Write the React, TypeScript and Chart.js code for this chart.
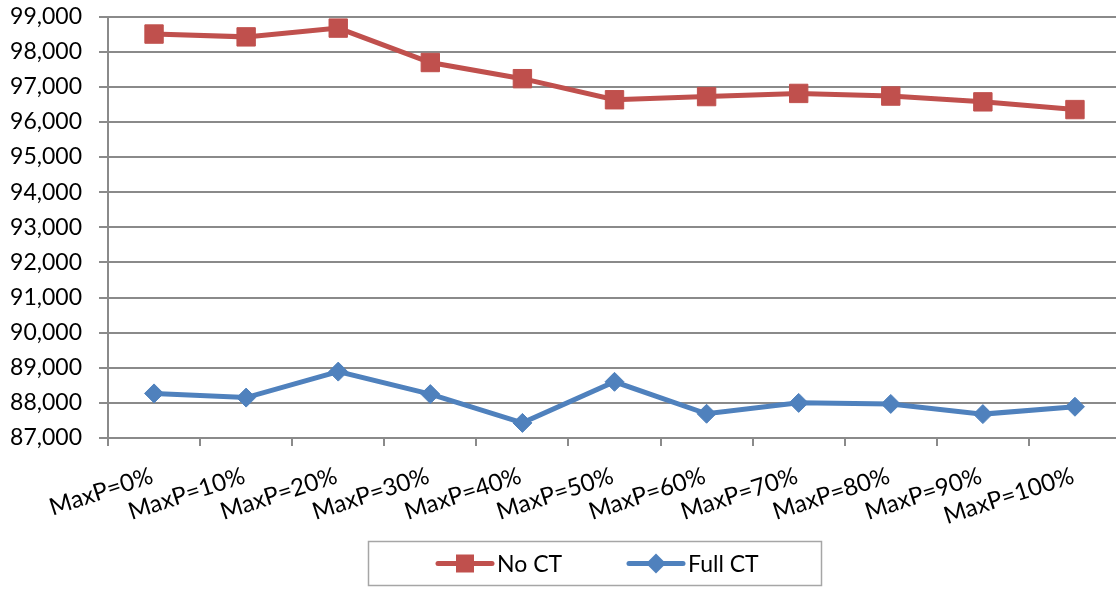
import React, { useEffect, useRef } from 'react';
import { Chart, registerables } from 'chart.js';

Chart.register(...registerables);

// Categories along the x axis
const categories = [
  'MaxP=0%', 'MaxP=10%', 'MaxP=20%', 'MaxP=30%', 'MaxP=40%', 'MaxP=50%',
  'MaxP=60%', 'MaxP=70%', 'MaxP=80%', 'MaxP=90%', 'MaxP=100%',
];

// Series values
const noCtValues = [98500, 98420, 98670, 97690, 97230, 96630, 96720, 96810, 96735, 96570, 96350];
const fullCtValues = [88270, 88150, 88890, 88250, 87430, 88600, 87690, 88000, 87970, 87680, 87890];

const seriesNames = ['No CT', 'Full CT'];
const seriesColors = ['#C0504D', '#4F81BD'];

// Value axis range
const yMin = 87000;
const yMax = 99000;
const yStep = 1000;

const FONT_FAMILY = 'Lato, "Open Sans", sans-serif';
const FONT_SIZE = 23;
const X_LABEL_SIZE = 24;
const X_LABEL_ANGLE = 18;
const GRID_COLOR = '#8a8a8a';
const CANVAS_W = 1121;
const CANVAS_H = 590;

// Slanted category labels, anchored at the end of each label under its category
const slantedLabels = {
  id: 'slantedLabels',
  afterDraw(chart: any) {
    const ctx: CanvasRenderingContext2D = chart.ctx;
    const xScale = chart.scales.x;
    const baseY = chart.chartArea.bottom + 44.5;
    ctx.save();
    ctx.font = `${X_LABEL_SIZE}px ${FONT_FAMILY}`;
    ctx.fillStyle = '#000';
    ctx.textAlign = 'right';
    ctx.textBaseline = 'alphabetic';
    chart.data.labels.forEach((label: string, i: number) => {
      const px = xScale.getPixelForValue(i) + 0.5;
      ctx.save();
      ctx.translate(px, baseY);
      ctx.rotate((-X_LABEL_ANGLE * Math.PI) / 180);
      ctx.fillText(label, 0, 0);
      ctx.restore();
    });
    ctx.restore();
  },
};

// Legend drawn inside a bordered box beneath the axis labels
const boxedLegend = {
  id: 'boxedLegend',
  afterDraw(chart: any) {
    const ctx: CanvasRenderingContext2D = chart.ctx;
    const boxLeft = 368.5;
    const boxTop = 541.5;
    const boxWidth = 453;
    const boxHeight = 44;
    const midY = boxTop + boxHeight / 2;
    const lineLen = 54;
    const textGap = 5;
    const itemStarts = [438, 629];

    ctx.save();
    ctx.strokeStyle = '#a6a6a6';
    ctx.lineWidth = 1.5;
    ctx.strokeRect(boxLeft, boxTop, boxWidth, boxHeight);

    ctx.font = `${FONT_SIZE}px ${FONT_FAMILY}`;
    ctx.textBaseline = 'middle';
    ctx.textAlign = 'left';

    chart.data.datasets.forEach((d: any, i: number) => {
      const x = itemStarts[i];
      const color = d.borderColor;
      ctx.strokeStyle = color;
      ctx.lineWidth = 5;
      ctx.lineCap = 'round';
      ctx.beginPath();
      ctx.moveTo(x, midY);
      ctx.lineTo(x + lineLen, midY);
      ctx.stroke();

      const cx = x + lineLen / 2;
      ctx.fillStyle = color;
      ctx.beginPath();
      if (d.pointStyle === 'rect') {
        const half = 9;
        ctx.rect(cx - half, midY - half, half * 2, half * 2);
      } else {
        const r = 10;
        ctx.moveTo(cx - r, midY);
        ctx.lineTo(cx, midY - r);
        ctx.lineTo(cx + r, midY);
        ctx.lineTo(cx, midY + r);
        ctx.closePath();
      }
      ctx.fill();

      ctx.fillStyle = '#000';
      ctx.fillText(d.label, x + lineLen + textGap, midY + 1);
    });
    ctx.restore();
  },
};

export default function App() {
  const canvasRef = useRef<HTMLCanvasElement | null>(null);

  useEffect(() => {
    const canvas = canvasRef.current;
    if (!canvas) return;

    const chart = new Chart(canvas, {
      type: 'line',
      data: {
        labels: categories,
        datasets: [
          {
            label: seriesNames[0],
            data: noCtValues,
            borderColor: seriesColors[0],
            backgroundColor: seriesColors[0],
            borderWidth: 5,
            pointStyle: 'rect',
            pointRadius: 13,
            pointBorderWidth: 1,
            tension: 0,
          },
          {
            label: seriesNames[1],
            data: fullCtValues,
            borderColor: seriesColors[1],
            backgroundColor: seriesColors[1],
            borderWidth: 5,
            pointStyle: 'rectRot',
            pointRadius: 9.5,
            pointBorderWidth: 1,
            tension: 0,
          },
        ],
      },
      options: {
        responsive: false,
        animation: false,
        layout: { autoPadding: false, padding: { top: 16.5, left: 0, right: 0, bottom: 52 } },
        plugins: {
          legend: { display: false },
          tooltip: { enabled: false },
        },
        scales: {
          x: {
            type: 'category',
            offset: true,
            grid: {
              offset: true,
              drawOnChartArea: false,
              drawTicks: true,
              tickLength: 8,
              color: GRID_COLOR,
              lineWidth: 2,
            },
            border: { display: true, color: GRID_COLOR, width: 2 },
            ticks: { display: false, autoSkip: false },
            afterFit(scale: any) {
              scale.height = 100;
            },
          },
          y: {
            min: yMin,
            max: yMax,
            ticks: {
              stepSize: yStep,
              padding: 17,
              color: '#000',
              font: { family: FONT_FAMILY, size: FONT_SIZE },
              callback: (v: any) => Number(v).toLocaleString('en-US'),
            },
            grid: {
              color: GRID_COLOR,
              lineWidth: 2,
              tickLength: 9,
              drawTicks: true,
            },
            border: { display: true, color: GRID_COLOR, width: 2 },
            afterFit(scale: any) {
              scale.width = 108;
              scale.paddingTop = 0;
              scale.paddingBottom = 0;
            },
          },
        },
      },
      plugins: [slantedLabels, boxedLegend],
    });

    return () => chart.destroy();
  }, []);

  return (
    <div
      style={{
        position: 'absolute',
        left: 0,
        top: 0,
        width: 1116,
        height: CANVAS_H,
        overflow: 'hidden',
        background: '#fff',
      }}
    >
      <canvas ref={canvasRef} width={CANVAS_W} height={CANVAS_H} style={{ display: 'block' }} />
    </div>
  );
}
